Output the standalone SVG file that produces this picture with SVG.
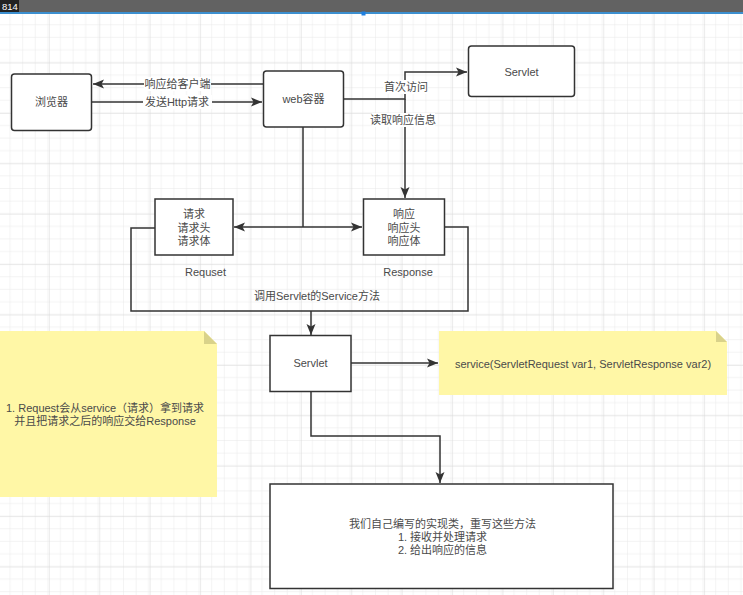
<svg xmlns="http://www.w3.org/2000/svg" width="743" height="595" viewBox="0 0 743 595">
<defs>
<pattern id="minor" x="-1.5" y="12.1" width="12.6" height="12.6" patternUnits="userSpaceOnUse">
<path d="M12.6,0 L0,0 L0,12.6" fill="none" stroke="#e8e8e8" stroke-width="1"/>
</pattern>
<pattern id="major" x="-1.5" y="12.1" width="50.4" height="50.4" patternUnits="userSpaceOnUse">
<rect width="50.4" height="50.4" fill="url(#minor)"/>
<path d="M50.4,0 L0,0 L0,50.4" fill="none" stroke="#d9d9d9" stroke-width="1"/>
</pattern>
<marker id="arr" markerUnits="userSpaceOnUse" markerWidth="12" markerHeight="10" viewBox="0 0 12 10" refX="11" refY="5" orient="auto">
<path d="M0,0.5 L11,5 L0,9.5 L2.5,5 Z" fill="#333"/>
</marker>
<style>
.box{fill:#fff;stroke:#333;stroke-width:1.5}
.t{font-family:"Liberation Sans","Noto Sans CJK SC",sans-serif;font-size:11px;fill:#4a4a4a;text-anchor:middle}
.c{fill:none;stroke:#333;stroke-width:1.5}
.note{fill:#fff7a6}
.fold{fill:#d9d28a}
</style>
</defs>
<rect width="743" height="595" fill="#fff"/>
<rect y="13" width="743" height="582" fill="url(#major)"/>
<g id="topbar">
<rect width="743" height="12" fill="#626262"/>
<rect y="12" width="743" height="2" fill="#3c8fcf"/>
<rect x="361.5" y="11.5" width="4" height="4" fill="#1f7fe0"/>
<rect width="19" height="12" fill="#222"/>
<text x="2" y="10" style="font-family:'Liberation Sans',sans-serif;font-size:9.5px;fill:#fff">814</text>
</g>
<g id="connectors">
<path class="c" d="M263,84 L93,84" marker-end="url(#arr)"/>
<path class="c" d="M92,102 L262,102" marker-end="url(#arr)"/>
<path class="c" d="M344,99 L405,99 L405,72 L467,72" marker-end="url(#arr)"/>
<path class="c" d="M405,99 L405,198" marker-end="url(#arr)"/>
<path class="c" d="M303,127 L303,227"/>
<path class="c" d="M303,227 L234,227" marker-end="url(#arr)"/>
<path class="c" d="M303,227 L362,227" marker-end="url(#arr)"/>
<path class="c" d="M155,228 L131,228 L131,311 L468,311 L468,227 L444,227"/>
<path class="c" d="M311,311 L311,335" marker-end="url(#arr)"/>
<path class="c" d="M351,363 L438,363" marker-end="url(#arr)"/>
<path class="c" d="M311,392 L311,436 L440,436 L440,483" marker-end="url(#arr)"/>
<rect x="144" y="77" width="67" height="14" fill="#fff"/>
<text class="t" x="177.5" y="88">响应给客户端</text>
<rect x="143" y="95" width="69" height="14" fill="#fff"/>
<text class="t" x="177" y="106">发送Http请求</text>
<rect x="383" y="80" width="45" height="14" fill="#fff"/>
<text class="t" x="406" y="91">首次访问</text>
<rect x="372" y="113" width="63" height="14" fill="#fff"/>
<text class="t" x="403" y="124">读取响应信息</text>
<text class="t" x="317" y="300">调用Servlet的Service方法</text>
</g>
<g id="browser">
<rect class="box" x="11.5" y="74" width="80" height="56.5" rx="3"/>
<text class="t" x="51.5" y="106">浏览器</text>
</g>
<g id="web-container">
<rect class="box" x="263.5" y="71" width="80" height="56" rx="3"/>
<text class="t" x="303.5" y="103">web容器</text>
</g>
<g id="servlet-top">
<rect class="box" x="468.5" y="46" width="106" height="50.5" rx="3"/>
<text class="t" x="521.5" y="76">Servlet</text>
</g>
<g id="request">
<rect class="box" x="155" y="199" width="78" height="56"/>
<text class="t" x="194" y="218">请求</text>
<text class="t" x="194" y="231.5">请求头</text>
<text class="t" x="194" y="245">请求体</text>
<text class="t" x="205.5" y="276">Requset</text>
</g>
<g id="response">
<rect class="box" x="363.5" y="199" width="81" height="56"/>
<text class="t" x="404" y="218">响应</text>
<text class="t" x="404" y="231.5">响应头</text>
<text class="t" x="404" y="245">响应体</text>
<text class="t" x="408" y="276">Response</text>
</g>
<g id="servlet">
<rect class="box" x="270" y="335.5" width="81" height="56"/>
<text class="t" x="310.5" y="367">Servlet</text>
</g>
<g id="note-left">
<path class="note" d="M0,331 L204,331 L217,344 L217,497 L0,497 Z"/>
<path class="fold" d="M204,331 L217,344 L204,344 Z"/>
<text class="t" x="105" y="412">1. Request会从service（请求）拿到请求</text>
<text class="t" x="105" y="424.5">并且把请求之后的响应交给Response</text>
</g>
<g id="note-right">
<path class="note" d="M439,331 L716,331 L727,342 L727,395 L439,395 Z"/>
<path class="fold" d="M716,331 L727,342 L716,342 Z"/>
<text class="t" x="583" y="367.5">service(ServletRequest var1, ServletResponse var2)</text>
</g>
<g id="impl">
<rect class="box" x="270" y="484" width="343" height="104.5"/>
<text class="t" x="442.5" y="527.5">我们自己编写的实现类，重写这些方法</text>
<text class="t" x="442.5" y="540.5">1. 接收并处理请求</text>
<text class="t" x="442.5" y="553.5">2. 给出响应的信息</text>
</g>
</svg>
